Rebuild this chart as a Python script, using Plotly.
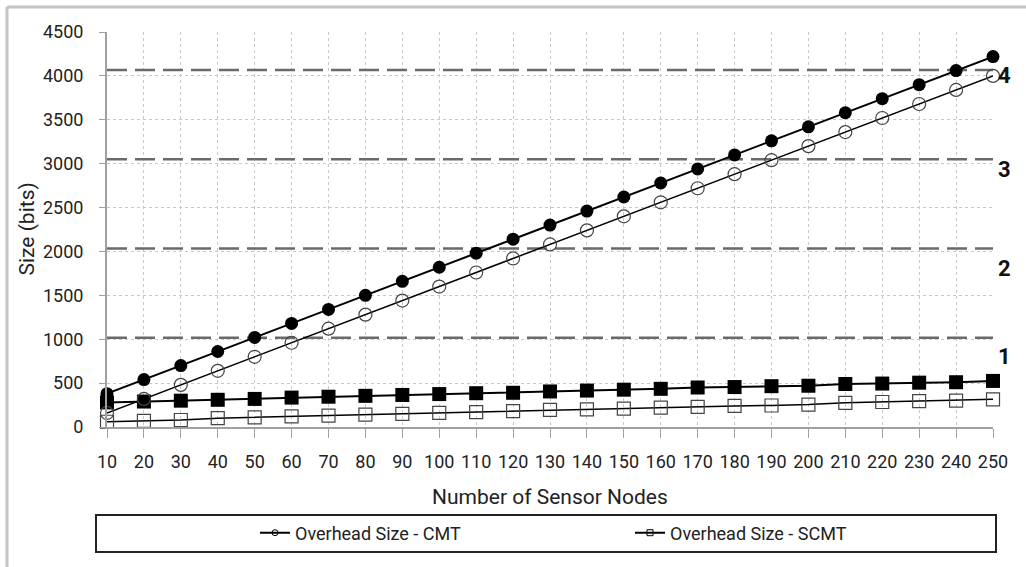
import plotly.graph_objects as go

nodes = [10, 20, 30, 40, 50, 60, 70, 80, 90, 100, 110, 120, 130, 140, 150,
         160, 170, 180, 190, 200, 210, 220, 230, 240, 250]
cmt_filled = [380, 540, 700, 860, 1020, 1180, 1340, 1500, 1660, 1820, 1980, 2140, 2300,
              2460, 2620, 2780, 2940, 3100, 3260, 3420, 3580, 3740, 3900, 4060, 4220]
cmt_open = [160, 320, 480, 640, 800, 960, 1120, 1280, 1440, 1600, 1760, 1920, 2080,
            2240, 2400, 2560, 2720, 2880, 3040, 3200, 3360, 3520, 3680, 3840, 4000]
scmt_filled = [280, 290, 300, 310, 320, 335, 345, 355, 365, 375, 385, 390, 405,
               415, 425, 435, 450, 455, 465, 470, 490, 495, 505, 510, 525]
scmt_open = [60, 70, 80, 100, 110, 120, 130, 140, 150, 160, 170, 180, 195,
             200, 210, 220, 230, 240, 245, 255, 275, 285, 295, 300, 315]
levels = [1017, 2034, 3051, 4068]
level_labels = ["1", "2", "3", "4"]
level_label_y = [800, 1810, 2930, 4000]
y_ticks = [0, 500, 1000, 1500, 2000, 2500, 3000, 3500, 4000, 4500]
legend_names = ["Overhead Size - CMT", "Overhead Size - SCMT"]

FONT = "Roboto, 'Open Sans', Arial, sans-serif"
L, R, T, B = 107, 33, 32, 140
W, H = 1026, 567
PW, PH = W - L - R, H - T - B


def px_x(p):
    return (p - L) / PW


def px_y(p):
    return (H - B - p) / PH


fig = go.Figure()

# dashed reference levels
for lv in levels:
    fig.add_trace(go.Scatter(
        x=[nodes[0], nodes[-1]], y=[lv, lv], mode="lines",
        line=dict(color="#6a6a6a", width=2.5, dash="20px,8px"),
        showlegend=False, hoverinfo="skip"))

# data series
fig.add_trace(go.Scatter(
    x=nodes, y=scmt_open, mode="lines+markers", showlegend=False, cliponaxis=False,
    line=dict(color="black", width=1.5),
    marker=dict(symbol="square-open", size=13, color="#444", line=dict(width=1.2))))
fig.add_trace(go.Scatter(
    x=nodes, y=scmt_filled, mode="lines+markers", showlegend=False, cliponaxis=False,
    line=dict(color="black", width=2),
    marker=dict(symbol="square", size=14, color="black")))
fig.add_trace(go.Scatter(
    x=nodes, y=cmt_open, mode="lines+markers", showlegend=False, cliponaxis=False,
    line=dict(color="black", width=1.5),
    marker=dict(symbol="circle-open", size=13, color="#444", line=dict(width=1.2))))
fig.add_trace(go.Scatter(
    x=nodes, y=cmt_filled, mode="lines+markers", showlegend=False, cliponaxis=False,
    line=dict(color="black", width=2),
    marker=dict(symbol="circle", size=13, color="black")))

# legend entries
fig.add_trace(go.Scatter(
    x=[None], y=[None], mode="lines+markers", name=legend_names[0],
    line=dict(color="black", width=2),
    marker=dict(symbol="circle-open", size=6, color="black", line=dict(width=1))))
fig.add_trace(go.Scatter(
    x=[None], y=[None], mode="lines+markers", name=legend_names[1],
    line=dict(color="black", width=2),
    marker=dict(symbol="square-open", size=6, color="black", line=dict(width=1))))

annotations = []
for lab, yv in zip(level_labels, level_label_y):
    annotations.append(dict(
        x=nodes[-1], y=yv, xref="x", yref="y", text="<b>%s</b>" % lab,
        showarrow=False, xshift=11, xanchor="center", yanchor="middle",
        font=dict(family=FONT, size=22, color="#111")))
annotations.append(dict(
    x=0.5, y=px_y(497), xref="paper", yref="paper", text="Number of Sensor Nodes",
    showarrow=False, xanchor="center", yanchor="middle",
    font=dict(family=FONT, size=21, color="#222")))
annotations.append(dict(
    x=px_x(26), y=0.5, xref="paper", yref="paper", text="Size (bits)",
    showarrow=False, xanchor="center", yanchor="middle", textangle=-90,
    font=dict(family=FONT, size=21, color="#222")))

shapes = [
    # legend frame
    dict(type="rect", xref="paper", yref="paper",
         x0=px_x(96), x1=px_x(996), y0=px_y(552), y1=px_y(515),
         line=dict(color="#222", width=2), fillcolor="rgba(0,0,0,0)"),
    # outer chart border (top and left visible)
    dict(type="line", xref="paper", yref="paper",
         x0=px_x(7), x1=px_x(1026), y0=px_y(7), y1=px_y(7),
         line=dict(color="#c4c4c4", width=3)),
    dict(type="line", xref="paper", yref="paper",
         x0=px_x(7), x1=px_x(7), y0=px_y(7), y1=px_y(567),
         line=dict(color="#c4c4c4", width=3)),
]

fig.update_layout(
    width=W, height=H,
    margin=dict(l=L, r=R, t=T, b=B),
    paper_bgcolor="white", plot_bgcolor="white",
    font=dict(family=FONT, size=18, color="#222"),
    showlegend=True,
    legend=dict(orientation="h", x=px_x(255), y=px_y(533), xanchor="left", yanchor="middle",
                xref="paper", yref="paper",
                bgcolor="rgba(0,0,0,0)", borderwidth=0,
                font=dict(family=FONT, size=18, color="#222"),
                entrywidth=330, entrywidthmode="pixels", tracegroupgap=0),
    annotations=annotations,
    shapes=shapes,
    xaxis=dict(range=[nodes[0], nodes[-1]], tickmode="array", tickvals=nodes,
               ticktext=[str(n) for n in nodes],
               showgrid=True, gridcolor="#c8c8c8", griddash="dot", gridwidth=1,
               showline=True, linecolor="#a0a0a0", linewidth=2,
               ticks="outside", ticklen=9, tickcolor="#a0a0a0", tickwidth=1,
               ticklabelstandoff=8, zeroline=False,
               tickfont=dict(family=FONT, size=18, color="#222")),
    yaxis=dict(range=[0, 4500], tickmode="array", tickvals=y_ticks,
               ticktext=[str(v) for v in y_ticks],
               showgrid=True, gridcolor="#c8c8c8", griddash="dot", gridwidth=1,
               showline=True, linecolor="#a0a0a0", linewidth=2,
               ticks="outside", ticklen=6, tickcolor="#a0a0a0", tickwidth=1,
               ticklabelstandoff=12, zeroline=False,
               tickfont=dict(family=FONT, size=18, color="#222")),
)

fig.write_html("out.html")
